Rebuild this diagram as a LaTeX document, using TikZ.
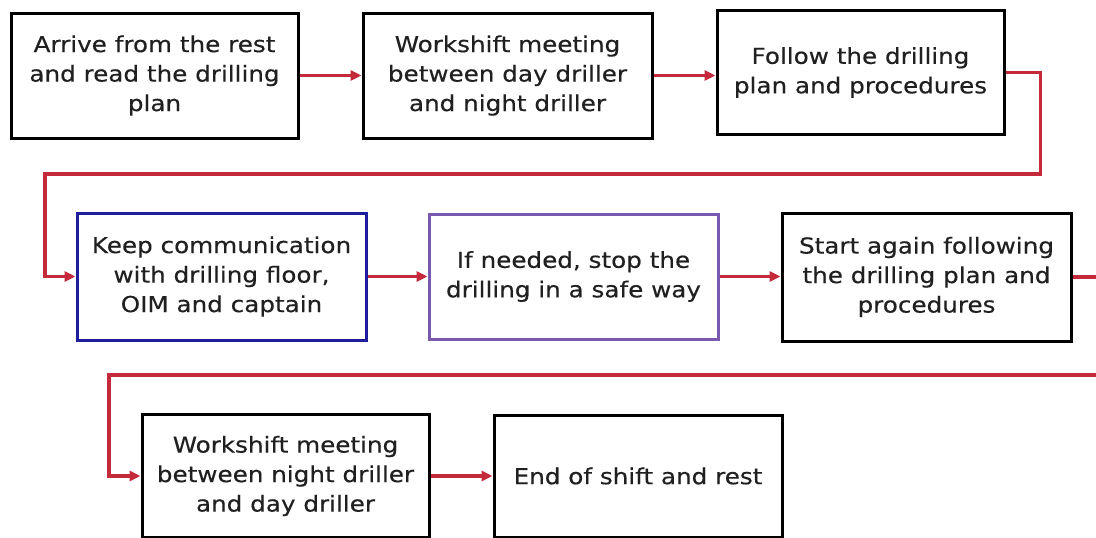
\documentclass[tikz,border=0pt]{standalone}
\usepackage{fontspec}
\setmainfont{DejaVu Sans}[FakeStretch=1.12, FakeBold=0.3]
\usetikzlibrary{arrows.meta}
\definecolor{arrred}{HTML}{C42A3A}
\definecolor{boxblue}{HTML}{1E1E9C}
\definecolor{boxpurple}{HTML}{7A5AAE}
\definecolor{txt}{HTML}{202020}
\begin{document}
\begin{tikzpicture}[x=1pt,y=-1pt,
  stepbox/.style={draw=black, line width=3pt, rectangle, minimum width=287pt, minimum height=125pt,
    align=center, text=txt, font=\fontsize{22}{29.5}\selectfont, inner sep=0pt},
  arr/.style={draw=arrred, line width=3.2pt, -{Triangle[length=11pt,width=10pt]}}]
\useasboundingbox (0,0) rectangle (1096,538);
\fill[white] (0,0) rectangle (1096,538);
\node[stepbox] (b1) at (154.5,75.5) {Arrive from the rest\\and read the drilling\\plan};
\node[stepbox, minimum width=289pt] (b2) at (507.5,75.5) {Workshift meeting\\between day driller\\and night driller};
\node[stepbox, minimum height=124pt] (b3) at (860.5,72.5) {Follow the drilling\\plan and procedures};
\node[stepbox, draw=boxblue, minimum width=289pt, minimum height=127pt] (b4) at (221.5,276.5) {Keep communication\\with drilling floor,\\OIM and captain};
\node[stepbox, draw=boxpurple, minimum width=289pt] (b5) at (573.5,276.5) {If needed, stop the\\drilling in a safe way};
\node[stepbox, minimum width=289pt, minimum height=128pt] (b6) at (926.5,277) {Start again following\\the drilling plan and\\procedures};
\node[stepbox, minimum height=123pt] (b7) at (285.5,476) {Workshift meeting\\between night driller\\and day driller};
\node[stepbox, minimum width=288pt, minimum height=122pt] (b8) at (638,476) {End of shift and rest};
\coordinate (c1) at (45,174);
\coordinate (c2) at (109,375);
\draw[arr] (b1.east) -- (b2.west);
\draw[arr] (b2.east) -- (b2.east -| b3.west);
\draw[arr] (b3.east) -- ++(35,0) |- (c1) |- (b4.west);
\draw[arr] (b4.east) -- (b5.west);
\draw[arr] (b5.east) -- (b5.east -| b6.west);
\draw[arr] (b6.east) -- ++(40,0) |- (c2) |- (b7.west);
\draw[arr] (b7.east) -- (b8.west);
\end{tikzpicture}
\end{document}
